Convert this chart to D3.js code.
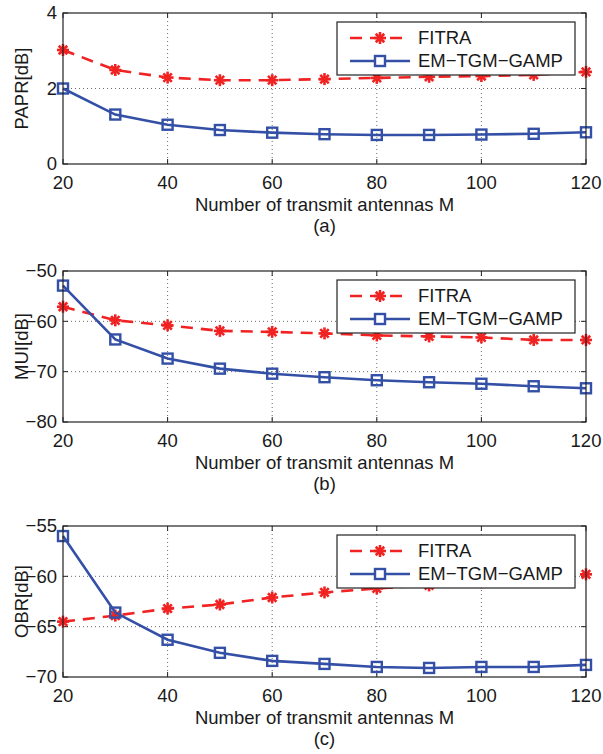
<!DOCTYPE html>
<html>
<head>
<meta charset="utf-8">
<script src="https://cdn.jsdelivr.net/npm/d3@7"></script>
<style>
  body { margin: 0; background: #fff; }
  svg text { font-family: "Liberation Sans", Arial, sans-serif; fill: #1a1a1a; }
</style>
</head>
<body>
<svg id="chart" width="603" height="754"></svg>
<script>
// x values: number of transmit antennas
const antennas = [20, 30, 40, 50, 60, 70, 80, 90, 100, 110, 120];
const xTicks = [20, 40, 60, 80, 100, 120];

// (a) PAPR
const paprFitra = [3.02, 2.49, 2.29, 2.22, 2.22, 2.25, 2.28, 2.31, 2.33, 2.36, 2.44];
const paprEm = [2.0, 1.31, 1.04, 0.9, 0.83, 0.79, 0.77, 0.77, 0.78, 0.8, 0.84];
const paprTicks = [0, 2, 4];

// (b) MUI
const muiFitra = [-57.1, -59.8, -60.8, -61.9, -62.1, -62.4, -62.8, -63.0, -63.2, -63.7, -63.7];
const muiEm = [-52.9, -63.6, -67.4, -69.4, -70.4, -71.1, -71.7, -72.1, -72.4, -72.9, -73.3];
const muiTicks = [-80, -70, -60, -50];

// (c) OBR
const obrFitra = [-64.5, -63.9, -63.2, -62.8, -62.1, -61.6, -61.2, -60.9, -60.6, -60.2, -59.8];
const obrEm = [-56.0, -63.6, -66.3, -67.6, -68.4, -68.7, -69.0, -69.1, -69.0, -69.0, -68.8];
const obrTicks = [-70, -65, -60, -55];

const seriesNames = ["FITRA", "EM\u2212TGM\u2212GAMP"];
const red = "#f02222", blue = "#3450a6";

const panels = [
  { label: "PAPR[dB]", tag: "(a)", top: 13, fitra: paprFitra, em: paprEm, ticks: paprTicks },
  { label: "MUI[dB]", tag: "(b)", top: 271, fitra: muiFitra, em: muiEm, ticks: muiTicks },
  { label: "OBR[dB]", tag: "(c)", top: 526, fitra: obrFitra, em: obrEm, ticks: obrTicks }
];

const svg = d3.select("#chart");
const left = 63, right = 586, h = 151;
const fs = 18.5;
const fmt = v => String(v).replace("-", "\u2212");

const x = d3.scaleLinear().domain([20, 120]).range([left, right]);

function star(g, cx, cy, r, color) {
  const s = g.append("g").attr("transform", `translate(${cx},${cy})`);
  [0, 45, 90, 135].forEach(a => {
    const rad = a * Math.PI / 180;
    s.append("line")
      .attr("x1", -r * Math.cos(rad)).attr("y1", -r * Math.sin(rad))
      .attr("x2", r * Math.cos(rad)).attr("y2", r * Math.sin(rad))
      .attr("stroke", color).attr("stroke-width", 2.6);
  });
}

function square(g, cx, cy, s, color) {
  g.append("rect")
    .attr("x", cx - s / 2).attr("y", cy - s / 2)
    .attr("width", s).attr("height", s)
    .attr("fill", "none").attr("stroke", color).attr("stroke-width", 2.4);
}

panels.forEach(p => {
  const top = p.top, bottom = top + h;
  const y = d3.scaleLinear().domain(d3.extent(p.ticks)).range([bottom, top]);
  const g = svg.append("g");

  // dotted grid
  xTicks.slice(1, -1).forEach(t => {
    g.append("line").attr("x1", x(t)).attr("x2", x(t)).attr("y1", top).attr("y2", bottom)
      .attr("stroke", "#444").attr("stroke-width", 0.8).attr("stroke-dasharray", "1,3");
  });
  p.ticks.slice(1, -1).forEach(t => {
    g.append("line").attr("x1", left).attr("x2", right).attr("y1", y(t)).attr("y2", y(t))
      .attr("stroke", "#444").attr("stroke-width", 0.8).attr("stroke-dasharray", "1,3");
  });

  // tick marks inside (bottom/top, left/right)
  xTicks.forEach(t => {
    g.append("line").attr("x1", x(t)).attr("x2", x(t)).attr("y1", bottom).attr("y2", bottom - 5).attr("stroke", "#222");
    g.append("line").attr("x1", x(t)).attr("x2", x(t)).attr("y1", top).attr("y2", top + 5).attr("stroke", "#222");
  });
  p.ticks.forEach(t => {
    g.append("line").attr("x1", left).attr("x2", left + 5).attr("y1", y(t)).attr("y2", y(t)).attr("stroke", "#222");
    g.append("line").attr("x1", right).attr("x2", right - 5).attr("y1", y(t)).attr("y2", y(t)).attr("stroke", "#222");
  });

  const line = d3.line().x((d, i) => x(antennas[i])).y(d => y(d));

  // FITRA
  g.append("path").datum(p.fitra).attr("d", line)
    .attr("fill", "none").attr("stroke", red).attr("stroke-width", 2.6)
    .attr("stroke-dasharray", "12,8");
  p.fitra.forEach((v, i) => star(g, x(antennas[i]), y(v), 6, red));

  // EM-TGM-GAMP
  g.append("path").datum(p.em).attr("d", line)
    .attr("fill", "none").attr("stroke", blue).attr("stroke-width", 2.6);
  p.em.forEach((v, i) => square(g, x(antennas[i]), y(v), 10, blue));

  // axes box
  g.append("rect").attr("x", left).attr("y", top).attr("width", right - left).attr("height", h)
    .attr("fill", "none").attr("stroke", "#222").attr("stroke-width", 1.2);

  // tick labels
  xTicks.forEach(t => {
    g.append("text").attr("x", x(t)).attr("y", bottom + 19).attr("dy", "0.35em")
      .attr("text-anchor", "middle").attr("font-size", fs).text(t);
  });
  p.ticks.forEach(t => {
    g.append("text").attr("x", left - 6).attr("y", y(t)).attr("dy", "0.35em")
      .attr("text-anchor", "end").attr("font-size", fs).text(fmt(t));
  });

  // axis labels
  g.append("text").attr("x", (left + right) / 2).attr("y", bottom + 41).attr("dy", "0.35em")
    .attr("text-anchor", "middle").attr("font-size", fs).text("Number of transmit antennas M");
  g.append("text").attr("x", (left + right) / 2).attr("y", bottom + 62).attr("dy", "0.35em")
    .attr("text-anchor", "middle").attr("font-size", fs).text(p.tag);
  g.append("text").attr("transform", `translate(22,${(top + bottom) / 2}) rotate(-90)`)
    .attr("dy", "0.35em").attr("text-anchor", "middle").attr("font-size", fs).text(p.label);

  // legend
  const lg = g.append("g");
  lg.append("rect").attr("x", 337).attr("y", top + 9).attr("width", 238).attr("height", 53)
    .attr("fill", "#fff").attr("stroke", "#222").attr("stroke-width", 1.2);
  [red, blue].forEach((c, i) => {
    const ly = top + 25 + i * 23;
    lg.append("line").attr("x1", 350).attr("x2", 410).attr("y1", ly).attr("y2", ly)
      .attr("stroke", c).attr("stroke-width", 2.6)
      .attr("stroke-dasharray", i === 0 ? "12,8" : null);
    if (i === 0) star(lg, 380, ly, 6, c); else {
      lg.append("rect").attr("x", 375).attr("y", ly - 5).attr("width", 10).attr("height", 10)
        .attr("fill", "#fff").attr("stroke", c).attr("stroke-width", 2.4);
    }
    lg.append("text").attr("x", 418).attr("y", ly).attr("dy", "0.35em")
      .attr("font-size", fs).text(seriesNames[i]);
  });
});
</script>
</body>
</html>
